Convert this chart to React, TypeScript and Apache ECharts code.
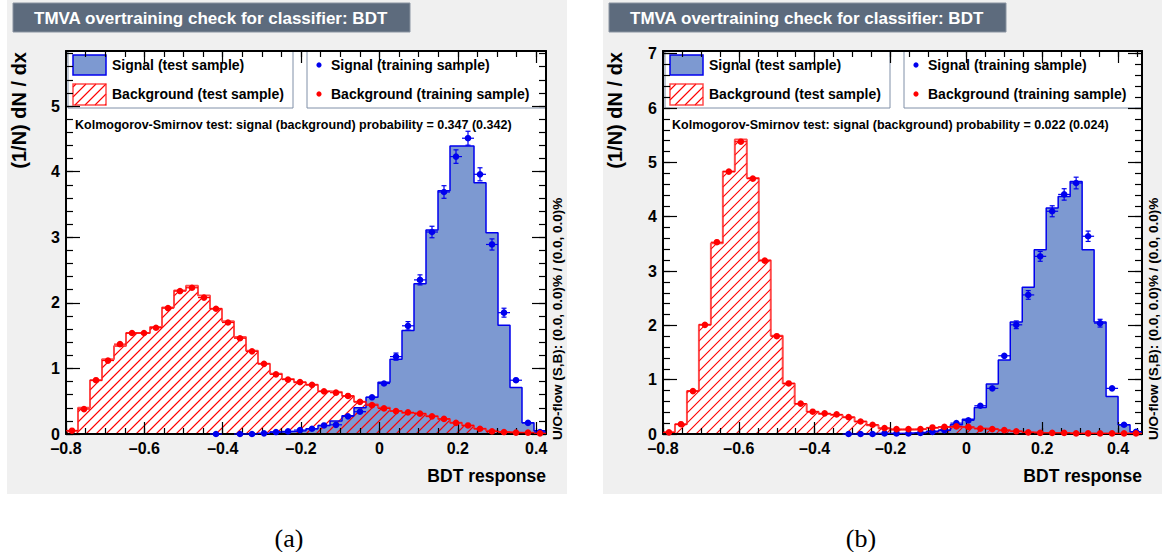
import { useEffect, useRef } from 'react';
import * as echarts from 'echarts';

const FONT = '"Liberation Sans", Arial, Helvetica, sans-serif';
const SERIF = '"Liberation Serif", "DejaVu Serif", serif';
const N_BINS = 40;

const TITLE = 'TMVA overtraining check for classifier: BDT';
const UOFLOW = 'U/O-flow (S,B): (0.0, 0.0)% / (0.0, 0.0)%';
const KS_A = 'Kolmogorov-Smirnov test: signal (background) probability = 0.347 (0.342)';
const KS_B = 'Kolmogorov-Smirnov test: signal (background) probability = 0.022 (0.024)';
const LEG_SIG_TEST = 'Signal (test sample)';
const LEG_BKG_TEST = 'Background (test sample)';
const LEG_SIG_TRAIN = 'Signal (training sample)';
const LEG_BKG_TRAIN = 'Background (training sample)';
const X_TITLE = 'BDT response';
const Y_TITLE = '(1/N) dN / dx';

const X_TICKS = [-0.8, -0.6, -0.4, -0.2, 0, 0.2, 0.4];
const Y_TICKS_A = [0, 1, 2, 3, 4, 5];
const Y_TICKS_B = [0, 1, 2, 3, 4, 5, 6, 7];

const X_RANGE_A = [-0.8, 0.425];
const X_RANGE_B = [-0.8, 0.4632];
const Y_MAX_A = 5.84;
const Y_MAX_B = 7.05;

// ---- panel (a) ----
const sigTestA = [0, 0, 0, 0, 0, 0, 0, 0, 0, 0, 0, 0, 0.003, 0.003, 0.005, 0.006, 0.01, 0.03, 0.04, 0.05,
  0.08, 0.13, 0.2, 0.28, 0.4, 0.56, 0.79, 1.14, 1.58, 2.29, 3.11, 3.71, 4.39, 4.39, 3.83, 3.07, 1.66, 0.71, 0.17, 0.05];
const sigTrainA = [null, null, null, null, null, null, null, null, null, null, null, null, 0.0, null, 0.0, 0.0, 0.01, 0.03, 0.04, 0.06,
  0.08, 0.13, 0.14, 0.27, 0.34, 0.56, 0.77, 1.18, 1.65, 2.35, 3.08, 3.69, 4.23, 4.51, 3.96, 2.89, 1.85, 0.82, 0.17, 0.03];
const bkgTestA = [0.05, 0.4, 0.82, 1.14, 1.34, 1.54, 1.54, 1.63, 1.93, 2.19, 2.26, 2.11, 1.91, 1.72, 1.48, 1.27, 1.07, 0.92, 0.84, 0.79,
  0.75, 0.65, 0.64, 0.58, 0.49, 0.45, 0.4, 0.35, 0.32, 0.31, 0.27, 0.23, 0.17, 0.13, 0.08, 0.05, 0.03, 0.02, 0.02, 0.01];
const bkgTrainA = [0.05, 0.38, 0.82, 1.12, 1.37, 1.54, 1.54, 1.62, 1.92, 2.18, 2.23, 2.08, 1.91, 1.7, 1.46, 1.26, 1.07, 0.91, 0.83, 0.79,
  0.75, 0.65, 0.63, 0.58, 0.49, 0.44, 0.39, 0.35, 0.33, 0.31, 0.27, 0.23, 0.17, 0.13, 0.08, 0.04, 0.03, 0.02, 0.02, 0.01];

// ---- panel (b) ----
const sigTestB = [0, 0, 0, 0, 0, 0, 0, 0, 0, 0, 0, 0, 0, 0, 0, 0.005, 0.005, 0.01, 0.01, 0.01,
  0.02, 0.03, 0.05, 0.07, 0.17, 0.27, 0.49, 0.92, 1.36, 2.06, 2.7, 3.39, 4.16, 4.37, 4.65, 3.39, 2.06, 0.69, 0.17, 0.04];
const sigTrainB = [null, null, null, null, null, null, null, null, null, null, null, null, null, null, null, 0.0, 0.0, 0.0, 0.01, 0.01,
  0.01, 0.02, 0.04, 0.07, 0.2, 0.25, 0.52, 0.84, 1.44, 2.01, 2.56, 3.27, 4.1, 4.41, 4.62, 3.64, 2.04, 0.84, 0.17, 0.04];
const bkgTestB = [0.03, 0.18, 0.79, 2.01, 3.51, 4.83, 5.42, 4.71, 3.2, 1.81, 0.93, 0.55, 0.41, 0.37, 0.35, 0.31, 0.23, 0.16, 0.1, 0.08,
  0.08, 0.09, 0.11, 0.13, 0.13, 0.12, 0.1, 0.09, 0.07, 0.05, 0.03, 0.02, 0.02, 0.02, 0.01, 0.01, 0.01, 0.01, 0.01, 0.01];
const bkgTrainB = [0.03, 0.18, 0.79, 2.01, 3.53, 4.83, 5.38, 4.7, 3.19, 1.8, 0.93, 0.56, 0.41, 0.38, 0.36, 0.31, 0.23, 0.17, 0.11, 0.09,
  0.09, 0.09, 0.12, 0.13, 0.14, 0.13, 0.1, 0.09, 0.07, 0.05, 0.03, 0.02, 0.02, 0.02, 0.01, 0.01, 0.01, 0.01, 0.01, 0.01];

// relative statistical uncertainty scale of the training points
const SIG_ERR_K = 0.05;
const BKG_ERR_K = 0.02;

const C_SIG_LINE = '#0000ee';
const C_SIG_FILL = '#7d99d1';
const C_BKG = '#ff0000';
const C_BKG_LINE = 'rgba(255,30,30,0.8)';
const C_CANVAS = '#f0f0f0';
const C_TITLEBOX = '#5d6b7d';

const FRAME_TOP = 51;
const FRAME_BOTTOM = 434;
const HATCH = 10;

const PANELS = [
  { bgX: 7, bgW: 560, frameL: 66, frameR: 546, cap: '(a)', capX: 289, ks: KS_A, xr: X_RANGE_A, ymax: Y_MAX_A, yt: Y_TICKS_A,
    sTest: sigTestA, sTrain: sigTrainA, bTest: bkgTestA, bTrain: bkgTrainA },
  { bgX: 603, bgW: 559, frameL: 663, frameR: 1142, cap: '(b)', capX: 861, ks: KS_B, xr: X_RANGE_B, ymax: Y_MAX_B, yt: Y_TICKS_B,
    sTest: sigTestB, sTrain: sigTrainB, bTest: bkgTestB, bTrain: bkgTrainB },
];

function steps(from: number, to: number, step: number) {
  const out: number[] = [];
  const n = Math.round((to - from) / step);
  for (let i = 0; i <= n; i++) out.push(+(from + i * step).toFixed(4));
  return out;
}

function fmtX(v: number) {
  if (Math.abs(v) < 1e-9) return '0';
  const s = Math.abs(v).toFixed(1);
  return v < 0 ? '\u2013' + s : s;
}

function hatchSegments(x0: number, yTop: number, x1: number, yBot: number, sp: number) {
  const segs: number[][] = [];
  if (x1 <= x0 || yBot <= yTop) return segs;
  const cStart = Math.ceil((x0 + yTop) / sp) * sp;
  for (let c = cStart; c <= x1 + yBot; c += sp) {
    const xa = Math.max(x0, c - yBot);
    const xb = Math.min(x1, c - yTop);
    if (xb > xa) segs.push([xa, c - xa, xb, c - xb]);
  }
  return segs;
}

function segsToPath(segs: number[][]) {
  return segs.map((s) => `M${s[0].toFixed(2)} ${s[1].toFixed(2)}L${s[2].toFixed(2)} ${s[3].toFixed(2)}`).join('');
}

const AX_LINE = { show: true, onZero: false, lineStyle: { color: '#000', width: 2 } };
const AX_NOLINE = { show: false, onZero: false };
const TICK_STYLE = { color: '#000', width: 1.2 };

function xAxes(gridIndex: number, range: number[], minors: number[]) {
  const base = { type: 'value', gridIndex, min: range[0], max: range[1], splitLine: { show: false }, z: 3 };
  return [
    { ...base, position: 'bottom', axisLine: AX_LINE,
      axisTick: { show: true, inside: true, length: 12, customValues: X_TICKS, lineStyle: TICK_STYLE },
      axisLabel: { show: true, customValues: X_TICKS, formatter: fmtX, color: '#000', fontFamily: FONT, fontWeight: 'bold', fontSize: 16, lineHeight: 14, margin: 7 } },
    { ...base, position: 'bottom', axisLine: AX_NOLINE,
      axisTick: { show: true, inside: true, length: 6, customValues: minors, lineStyle: TICK_STYLE }, axisLabel: { show: false } },
    { ...base, position: 'top', axisLine: AX_LINE,
      axisTick: { show: true, inside: true, length: 12, customValues: X_TICKS, lineStyle: TICK_STYLE }, axisLabel: { show: false } },
    { ...base, position: 'top', axisLine: AX_NOLINE,
      axisTick: { show: true, inside: true, length: 6, customValues: minors, lineStyle: TICK_STYLE }, axisLabel: { show: false } },
  ];
}

function yAxes(gridIndex: number, max: number, majors: number[], minors: number[]) {
  const base = { type: 'value', gridIndex, min: 0, max, splitLine: { show: false }, z: 3 };
  return [
    { ...base, position: 'left', axisLine: AX_LINE,
      axisTick: { show: true, inside: true, length: 14, customValues: majors, lineStyle: TICK_STYLE },
      axisLabel: { show: true, customValues: majors, color: '#000', fontFamily: FONT, fontWeight: 'bold', fontSize: 16, lineHeight: 14, margin: 6 } },
    { ...base, position: 'left', axisLine: AX_NOLINE,
      axisTick: { show: true, inside: true, length: 7, customValues: minors, lineStyle: TICK_STYLE }, axisLabel: { show: false } },
    { ...base, position: 'right', axisLine: AX_LINE,
      axisTick: { show: true, inside: true, length: 14, customValues: majors, lineStyle: TICK_STYLE }, axisLabel: { show: false } },
    { ...base, position: 'right', axisLine: AX_NOLINE,
      axisTick: { show: true, inside: true, length: 7, customValues: minors, lineStyle: TICK_STYLE }, axisLabel: { show: false } },
  ];
}

function histLine(values: number[], range: number[], ax: number, color: string, width: number, fill?: string) {
  const w = (range[1] - range[0]) / N_BINS;
  const data: number[][] = [[range[0], 0]];
  values.forEach((v, i) => data.push([range[0] + i * w, v]));
  data.push([range[1], values[values.length - 1]]);
  data.push([range[1], 0]);
  const s: any = {
    type: 'line', xAxisIndex: ax, yAxisIndex: ax, data, step: 'end', symbol: 'none', showSymbol: false,
    lineStyle: { color, width }, itemStyle: { color }, z: 2, silent: true, clip: true,
  };
  if (fill) s.areaStyle = { color: fill, opacity: 1 };
  return s;
}

function hatchSeries(values: number[], range: number[], ax: number) {
  const w = (range[1] - range[0]) / N_BINS;
  return {
    type: 'custom', xAxisIndex: ax, yAxisIndex: ax, z: 2, silent: true, clip: true,
    itemStyle: { color: C_BKG },
    data: values.map((v, i) => [range[0] + i * w, range[0] + (i + 1) * w, v]),
    encode: { x: [0, 1], y: 2 },
    renderItem: (_p: any, api: any) => {
      const lo = api.value(0), hi = api.value(1), v = api.value(2);
      const a = api.coord([lo, 0]);
      const b = api.coord([hi, v]);
      const segs = hatchSegments(a[0], b[1], b[0], a[1], HATCH);
      if (!segs.length) return { type: 'group', children: [] };
      return {
        type: 'path',
        shape: { pathData: segsToPath(segs) },
        style: { fill: 'none', stroke: C_BKG, lineWidth: 1.1 },
      };
    },
  };
}

function pointSeries(values: (number | null)[], range: number[], ax: number, color: string, errK: number) {
  const w = (range[1] - range[0]) / N_BINS;
  const data: number[][] = [];
  values.forEach((v, i) => {
    if (v != null) data.push([range[0] + (i + 0.5) * w, v, errK * Math.sqrt(v)]);
  });
  return {
    type: 'custom', xAxisIndex: ax, yAxisIndex: ax, z: 4, silent: true, clip: false,
    itemStyle: { color },
    data, encode: { x: 0, y: 1 },
    renderItem: (_p: any, api: any) => {
      const x = api.value(0), v = api.value(1), e = api.value(2);
      const c = api.coord([x, v]);
      const hw = api.size([w, 0])[0] / 2;
      const yt = api.coord([x, v + e])[1];
      const yb = api.coord([x, Math.max(0, v - e)])[1];
      const st = { stroke: color, lineWidth: 1.2 };
      const ch: any[] = [
        { type: 'line', shape: { x1: c[0] - hw, y1: c[1], x2: c[0] + hw, y2: c[1] }, style: st },
      ];
      if (c[1] - yt > 3.5) {
        ch.push({ type: 'line', shape: { x1: c[0], y1: yt, x2: c[0], y2: yb }, style: st });
        ch.push({ type: 'line', shape: { x1: c[0] - 2.5, y1: yt, x2: c[0] + 2.5, y2: yt }, style: st });
        ch.push({ type: 'line', shape: { x1: c[0] - 2.5, y1: yb, x2: c[0] + 2.5, y2: yb }, style: st });
      }
      ch.push({ type: 'circle', shape: { cx: c[0], cy: c[1], r: 3.3 }, style: { fill: color } });
      return { type: 'group', children: ch };
    },
  };
}

function txt(x: number, y: number, text: string, size: number, opts: any = {}) {
  const align = opts.align || 'left';
  const valign = opts.valign || 'middle';
  return {
    type: 'text', x, y, z: opts.z ?? 6, rotation: opts.rotation || 0, silent: true,
    style: {
      text, fill: opts.color || '#000', fontSize: size, fontWeight: opts.weight || 'bold',
      fontFamily: opts.family || FONT, align, textAlign: align, verticalAlign: valign, textVerticalAlign: valign,
    },
  };
}

function buildOption() {
  const grid: any[] = [];
  const xAxis: any[] = [];
  const yAxis: any[] = [];
  const series: any[] = [];
  const graphic: any[] = [];

  PANELS.forEach((p, gi) => {
    const ax = gi * 4;
    grid.push({ left: p.frameL, top: FRAME_TOP, width: p.frameR - p.frameL, height: FRAME_BOTTOM - FRAME_TOP, containLabel: false });
    const xMinor = steps(-0.8, p.xr[1] > 0.45 ? 0.45 : 0.4, 0.05);
    const yMinor = steps(0, Math.floor(p.ymax * 5) / 5, 0.2);
    xAxis.push(...xAxes(gi, p.xr, xMinor));
    yAxis.push(...yAxes(gi, p.ymax, p.yt, yMinor));

    series.push(histLine(p.sTest, p.xr, ax, C_SIG_LINE, 1.5, C_SIG_FILL));
    series.push(hatchSeries(p.bTest, p.xr, ax));
    series.push(histLine(p.bTest, p.xr, ax, C_BKG_LINE, 2));
    series.push(pointSeries(p.sTrain, p.xr, ax, C_SIG_LINE, SIG_ERR_K));
    series.push(pointSeries(p.bTrain, p.xr, ax, C_BKG, BKG_ERR_K));

    // canvas & frame backgrounds
    graphic.push({ type: 'rect', z: -20, silent: true, shape: { x: p.bgX, y: 0, width: p.bgW, height: 494 }, style: { fill: C_CANVAS } });
    graphic.push({ type: 'rect', z: -19, silent: true, shape: { x: p.frameL, y: FRAME_TOP, width: p.frameR - p.frameL, height: FRAME_BOTTOM - FRAME_TOP }, style: { fill: '#ffffff' } });
    // title box
    graphic.push({ type: 'rect', z: 5, silent: true, shape: { x: p.bgX + 6, y: 3, width: 397, height: 29 }, style: { fill: C_TITLEBOX, stroke: '#8a94a1', lineWidth: 1 } });
    graphic.push(txt(p.bgX + 27, 18, TITLE, 17, { color: '#ffffff' }));

    // legend box 1
    const l1x = p.frameL + 2;
    graphic.push({ type: 'rect', z: -5, silent: true, shape: { x: l1x, y: FRAME_TOP, width: 225, height: 57 }, style: { fill: '#ffffff', stroke: '#8090a8', lineWidth: 1 } });
    graphic.push({ type: 'rect', z: -4, silent: true, shape: { x: p.frameL + 7, y: 55, width: 33, height: 20 }, style: { fill: C_SIG_FILL, stroke: C_SIG_LINE, lineWidth: 1.5 } });
    const sx0 = p.frameL + 7, sy0 = 84, sx1 = sx0 + 33, sy1 = 105;
    hatchSegments(sx0, sy0, sx1, sy1, HATCH).forEach((s) => {
      graphic.push({ type: 'polyline', z: -4, silent: true, shape: { points: [[s[0], s[1]], [s[2], s[3]]] }, style: { fill: 'none', stroke: C_BKG, lineWidth: 1.1 } });
    });
    graphic.push({ type: 'rect', z: -4, silent: true, shape: { x: sx0, y: sy0, width: 33, height: 21 }, style: { fill: 'transparent', stroke: C_BKG_LINE, lineWidth: 1.5 } });
    graphic.push(txt(p.frameL + 46, 65, LEG_SIG_TEST, 14, { z: -3 }));
    graphic.push(txt(p.frameL + 46, 94, LEG_BKG_TEST, 14, { z: -3 }));

    // legend box 2
    const l2x = p.frameL + 241;
    graphic.push({ type: 'rect', z: -5, silent: true, shape: { x: l2x, y: FRAME_TOP, width: p.frameR - l2x, height: 57 }, style: { fill: '#ffffff', stroke: '#8090a8', lineWidth: 1 } });
    graphic.push({ type: 'circle', z: -4, silent: true, shape: { cx: p.frameL + 253, cy: 65, r: 2.6 }, style: { fill: C_SIG_LINE } });
    graphic.push({ type: 'circle', z: -4, silent: true, shape: { cx: p.frameL + 253, cy: 94, r: 2.6 }, style: { fill: C_BKG } });
    graphic.push(txt(p.frameL + 265, 65, LEG_SIG_TRAIN, 14, { z: -3 }));
    graphic.push(txt(p.frameL + 265, 94, LEG_BKG_TRAIN, 14, { z: -3 }));

    // KS text
    graphic.push(txt(p.frameL + 9, 125, p.ks, 12.5));
    // U/O-flow text
    graphic.push(txt(p.frameR + 11, 440, UOFLOW, 13.5, { rotation: Math.PI / 2, align: 'left' }));
    // axis titles
    graphic.push(txt(p.frameR, 476, X_TITLE, 17.5, { align: 'right' }));
    graphic.push(txt(p.bgX + 12, 52, Y_TITLE, 20, { rotation: Math.PI / 2, align: 'right' }));
    // caption
    graphic.push(txt(p.capX, 538, p.cap, 26, { align: 'center', weight: 'normal', family: SERIF }));
  });

  return {
    animation: false,
    backgroundColor: '#ffffff',
    grid, xAxis, yAxis, series, graphic,
  };
}

export default function App() {
  const ref = useRef<HTMLDivElement>(null);
  useEffect(() => {
    document.body.style.margin = '0';
    const chart = echarts.init(ref.current as HTMLDivElement, undefined, { renderer: 'svg' });
    chart.setOption(buildOption() as any);
    return () => chart.dispose();
  }, []);
  return <div ref={ref} style={{ width: 1169, height: 552, background: '#fff' }} />;
}
